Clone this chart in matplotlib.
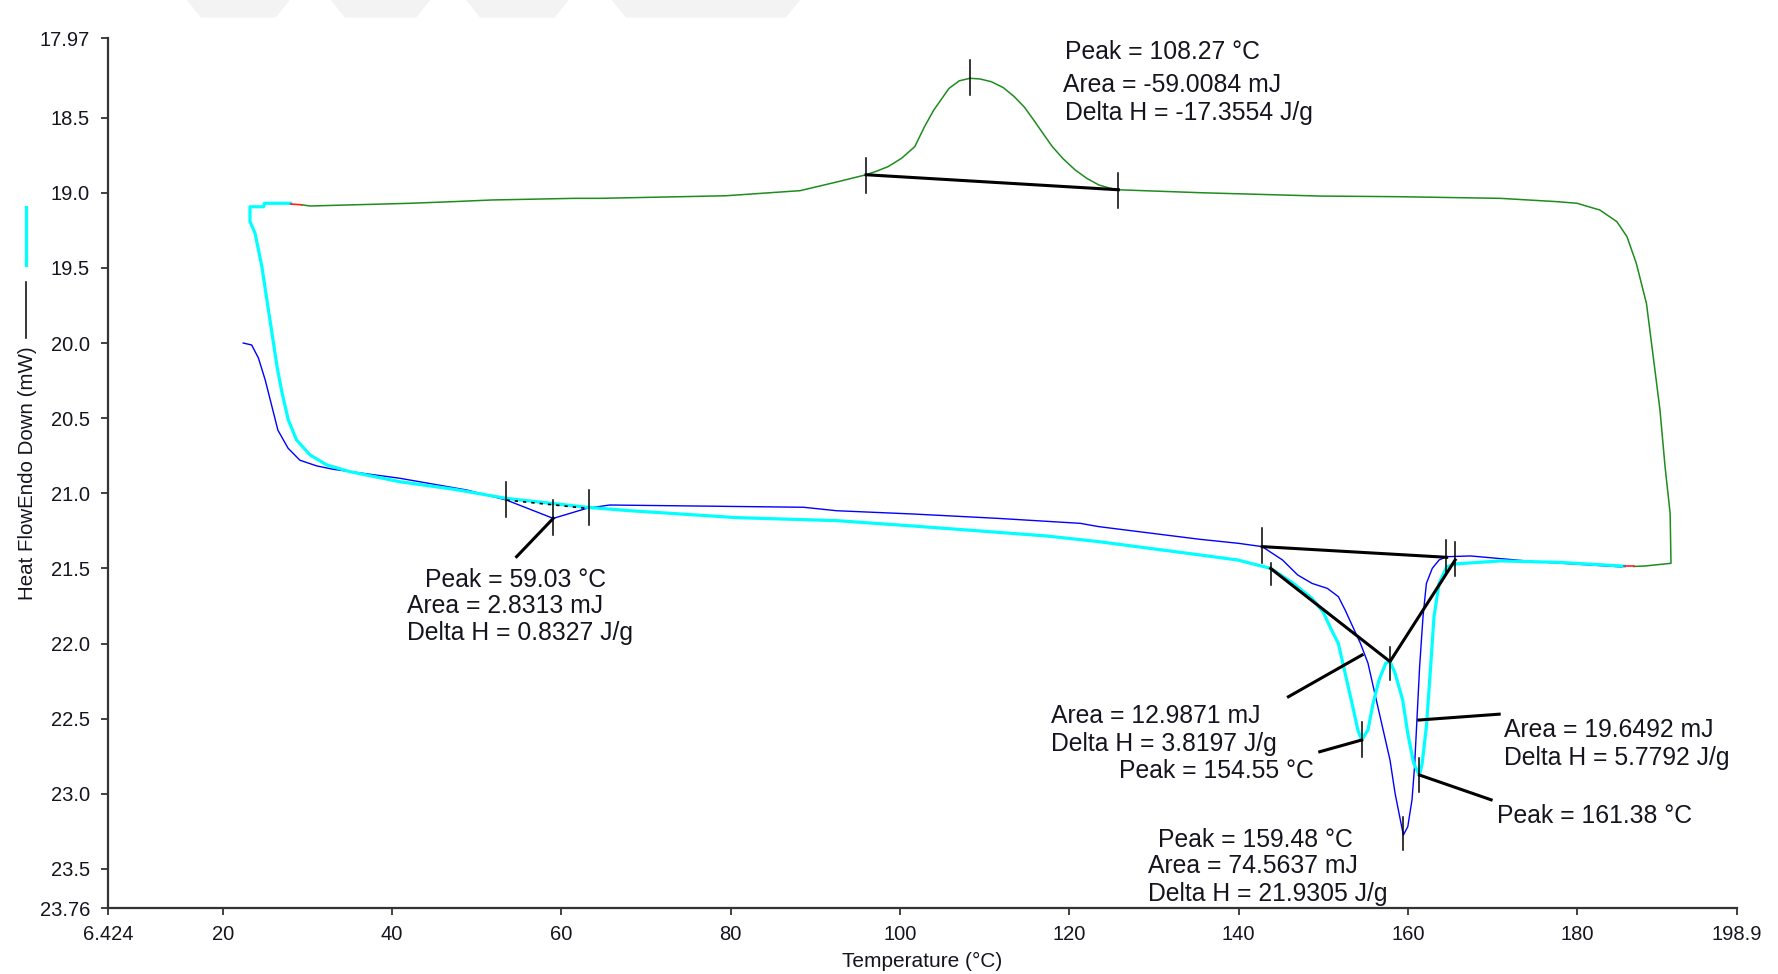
import matplotlib
matplotlib.use('Agg')
import matplotlib.pyplot as plt
from matplotlib.lines import Line2D
from matplotlib.patches import Polygon

plt.rcParams['font.family'] = ['Liberation Sans', 'DejaVu Sans']

# Cooling run (green), read from the right-hand turnaround back to room temperature
green_t = [186.7, 188.0, 191.1, 191.0, 190.4, 189.8, 189.0, 188.2, 187.0, 185.9, 184.7,
           182.7, 180.0, 177.6, 170.9, 158.7, 149.7, 135.7, 125.8, 124.7, 123.5, 122.1,
           120.7, 119.3, 118.0, 116.9, 115.8, 114.7, 113.5, 112.2, 110.8, 109.5, 108.27,
           107.0, 105.8, 104.0, 102.9, 101.75, 100.2, 98.6, 97.3, 96.0, 92.7, 88.2,
           79.4, 64.6, 61.6, 51.8, 47.2, 42.1, 30.3, 29.3]
green_hf = [21.487, 21.484, 21.466, 21.133, 20.823, 20.446, 20.09, 19.736, 19.469, 19.292, 19.192,
            19.115, 19.07, 19.059, 19.037, 19.026, 19.022, 19.0, 18.98, 18.968, 18.948, 18.905,
            18.848, 18.775, 18.693, 18.605, 18.516, 18.43, 18.36, 18.30, 18.261, 18.243, 18.238,
            18.255, 18.305, 18.449, 18.56, 18.693, 18.77, 18.826, 18.855, 18.88, 18.926, 18.986,
            19.02, 19.037, 19.037, 19.048, 19.059, 19.07, 19.088, 19.08]

# First heating (blue)
blue_t = [22.4, 23.4, 24.2, 25.0, 25.8, 26.5, 27.7, 29.1, 31.1, 33.0, 40.9, 48.8, 53.5,
          59.03, 63.0, 65.7, 88.6, 92.5, 101.6, 111.6, 121.3, 123.5, 135.4, 140.0, 142.8,
          145.2, 147.0, 148.7, 150.5, 151.8, 152.6, 153.5, 154.4, 155.3, 156.1, 157.0,
          157.9, 158.5, 159.2, 159.48, 160.0, 160.5, 160.8, 161.1, 161.4, 161.8, 162.2,
          162.9, 163.7, 164.6, 167.4, 175.0, 185.3]
blue_hf = [20.0, 20.013, 20.10, 20.246, 20.424, 20.58, 20.70, 20.78, 20.818, 20.84, 20.90, 20.978, 21.045,
           21.167, 21.10, 21.078, 21.093, 21.116, 21.138, 21.167, 21.20, 21.222, 21.306, 21.333, 21.355,
           21.444, 21.544, 21.60, 21.633, 21.688, 21.777, 21.888, 21.998, 22.131, 22.331, 22.553,
           22.775, 22.997, 23.196, 23.274, 23.219, 23.04, 22.82, 22.487, 22.154, 21.821, 21.60,
           21.499, 21.444, 21.422, 21.417, 21.455, 21.49]

# Second heating (cyan)
cyan_t = [28.0, 24.9, 24.8, 23.2, 23.2, 23.8, 24.6, 25.2, 25.8, 26.4, 27.0, 27.73, 28.7,
          30.3, 32.3, 35.0, 40.9, 47.5, 53.5, 63.0, 68.1, 80.7, 92.5, 101.6, 109.5, 117.3,
          123.5, 135.4, 139.9, 143.8, 146.5, 148.7, 150.0, 150.9, 151.8, 152.6, 153.5, 154.1,
          154.55, 155.3, 155.9, 156.6, 157.4, 157.9, 158.5, 159.4, 160.0, 160.7, 161.38,
          161.7, 162.2, 162.7, 163.1, 163.7, 164.6, 165.6, 171.0, 178.0, 185.6]
cyan_hf = [19.07, 19.07, 19.093, 19.093, 19.19, 19.27, 19.49, 19.714, 19.935, 20.158, 20.335, 20.512, 20.645,
           20.745, 20.812, 20.856, 20.923, 20.975, 21.034, 21.093, 21.116, 21.162, 21.182, 21.218, 21.251, 21.284,
           21.322, 21.41, 21.444, 21.50, 21.60, 21.70, 21.79, 21.90, 22.0, 22.198, 22.42, 22.575,
           22.642, 22.575, 22.398, 22.243, 22.131, 22.12, 22.198, 22.376, 22.598, 22.798, 22.875,
           22.798, 22.553, 22.154, 21.821, 21.60, 21.49, 21.47, 21.45, 21.46, 21.485]

# Short red joins between runs
red_segments = [([28.0, 29.3], [19.075, 19.08]), ([185.6, 186.7], [21.487, 21.487])]

# Integration baselines
exo_base_t, exo_base_hf = [96.0, 125.8], [18.88, 18.98]
melt_top_t, melt_top_hf = [142.8, 164.6], [21.355, 21.426]
melt_v_t, melt_v_hf = [143.8, 157.9, 165.6], [21.50, 22.12, 21.444]
small_base_t, small_base_hf = [53.5, 63.0], [21.045, 21.10]

# Limit markers (x, y_top, y_bottom)
markers = [(53.5, 20.923, 21.156), (59.03, 21.045, 21.278), (63.2, 20.978, 21.211),
           (96.0, 18.77, 19.003), (108.27, 18.116, 18.349), (125.8, 18.87, 19.103),
           (142.8, 21.233, 21.466), (143.8, 21.466, 21.61), (164.5, 21.311, 21.544),
           (165.6, 21.322, 21.55), (157.9, 22.02, 22.242), (154.55, 22.52, 22.753),
           (159.48, 23.152, 23.374), (161.38, 22.764, 22.986)]

# Leader lines from labels to peaks
leaders = [([54.7, 59.03], [21.422, 21.167]),
           ([145.9, 154.6], [22.354, 22.076]),
           ([149.6, 154.55], [22.72, 22.642]),
           ([161.3, 170.8], [22.509, 22.47]),
           ([161.38, 169.85], [22.875, 23.04])]

# Result labels: (x, y, text)
labels = [(119.5, 18.112, 'Peak = 108.27 °C'),
          (119.3, 18.327, 'Area = -59.0084 mJ'),
          (119.5, 18.516, 'Delta H = -17.3554 J/g'),
          (43.9, 21.622, 'Peak = 59.03 °C'),
          (41.76, 21.799, 'Area = 2.8313 mJ'),
          (41.76, 21.976, 'Delta H = 0.8327 J/g'),
          (117.9, 22.527, 'Area = 12.9871 mJ'),
          (117.9, 22.715, 'Delta H = 3.8197 J/g'),
          (125.9, 22.897, 'Peak = 154.55 °C'),
          (130.5, 23.352, 'Peak = 159.48 °C'),
          (129.35, 23.525, 'Area = 74.5637 mJ'),
          (129.35, 23.713, 'Delta H = 21.9305 J/g'),
          (171.4, 22.62, 'Area = 19.6492 mJ'),
          (171.4, 22.808, 'Delta H = 5.7792 J/g'),
          (170.5, 23.196, 'Peak = 161.38 °C')]

x_ticks = [6.424, 20, 40, 60, 80, 100, 120, 140, 160, 180, 198.9]
x_tick_labels = ['6.424', '20', '40', '60', '80', '100', '120', '140', '160', '180', '198.9']
y_ticks = [17.97, 18.5, 19.0, 19.5, 20.0, 20.5, 21.0, 21.5, 22.0, 22.5, 23.0, 23.5, 23.76]
y_tick_labels = ['17.97', '18.5', '19.0', '19.5', '20.0', '20.5', '21.0', '21.5', '22.0',
                 '22.5', '23.0', '23.5', '23.76']

txt = '#151520'

fig = plt.figure(figsize=(17.78, 9.74), dpi=100)
ax = fig.add_axes([0.06074, 0.06776, 0.91620, 0.89322])

ax.plot(green_t, green_hf, color='#1e8c1e', lw=1.1, zorder=2)
ax.plot(blue_t, blue_hf, color='#0000ff', lw=1.0, zorder=3)
ax.plot(cyan_t, cyan_hf, color='#00ffff', lw=2.3, zorder=4)
for xs, ys in red_segments:
    ax.plot(xs, ys, color='#ff2020', lw=1.2, zorder=5)

ax.plot(exo_base_t, exo_base_hf, color='black', lw=2.2, zorder=6)
ax.plot(melt_top_t, melt_top_hf, color='black', lw=2.2, zorder=6)
ax.plot(melt_v_t, melt_v_hf, color='black', lw=2.2, zorder=6)
ax.plot(small_base_t, small_base_hf, color='black', lw=1.2, ls=(0, (2, 3)), zorder=6)

for x, y0, y1 in markers:
    ax.plot([x, x], [y0, y1], color='black', lw=1.1, zorder=7)
for xs, ys in leaders:
    ax.plot(xs, ys, color='black', lw=2.2, zorder=7)
for x, y, s in labels:
    ax.text(x, y, s, fontsize=17.8, color=txt, va='baseline', ha='left', zorder=8)

ax.set_xlim(6.424, 198.9)
ax.set_ylim(23.76, 17.97)
ax.set_xticks(x_ticks)
ax.set_xticklabels(x_tick_labels)
ax.set_yticks(y_ticks)
ax.set_yticklabels(y_tick_labels)

for side in ('top', 'right'):
    ax.spines[side].set_visible(False)
for side in ('left', 'bottom'):
    ax.spines[side].set_color('#333333')
    ax.spines[side].set_linewidth(1.6)
ax.tick_params(axis='both', direction='out', length=5, width=1.3, color='#333333',
               labelsize=14.5, labelcolor=txt)
ax.tick_params(axis='y', pad=8)
ax.tick_params(axis='x', pad=7)

ax.set_xlabel('Temperature (°C)', fontsize=15, color=txt)
ax.xaxis.set_label_coords(0.5, -0.05)
ax.set_ylabel('Heat FlowEndo Down (mW)', fontsize=14.8, color=txt)
ax.yaxis.set_label_coords(-0.0436, 0.5)

# Curve keys beside the y label
fig.add_artist(Line2D([0.0146, 0.0146], [0.728, 0.787], color='#00ffff', lw=2.3))
fig.add_artist(Line2D([0.0146, 0.0146], [0.653, 0.7105], color='black', lw=1.1))

# Faint grey band along the top edge
for x0, x1 in [(0.105, 0.163), (0.186, 0.242), (0.262, 0.320), (0.344, 0.450)]:
    fig.add_artist(Polygon([(x0, 1.0), (x1, 1.0), (x1 - 0.008, 0.982), (x0 + 0.008, 0.982)],
                           closed=True, facecolor='#f3f3f3', edgecolor='none',
                           transform=fig.transFigure, zorder=0))

fig.savefig('out.png', dpi=100, facecolor='white')
